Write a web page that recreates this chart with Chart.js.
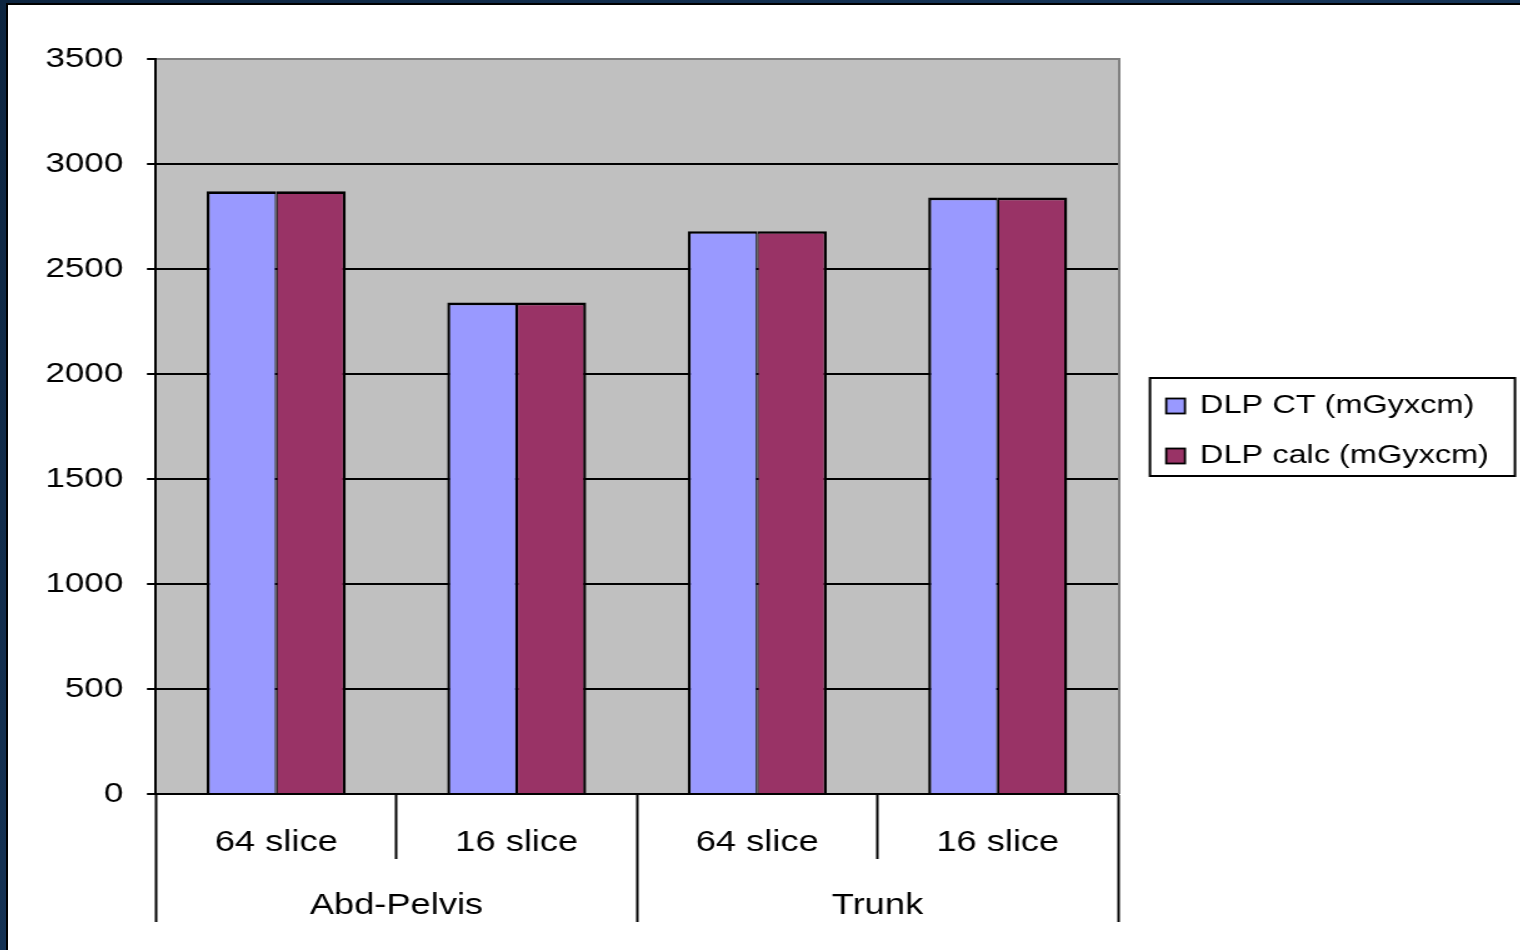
<!DOCTYPE html>
<html>
<head>
<meta charset="utf-8">
<title>DLP CT vs DLP calc</title>
<script src="https://cdn.jsdelivr.net/npm/chart.js@4"></script>
<style>
  html, body { margin: 0; padding: 0; width: 1520px; height: 950px; overflow: hidden; }
  body { background: linear-gradient(135deg, #0d2540 0%, #17365a 50%, #0f2946 100%); position: relative; }
  #panel {
    position: absolute; left: 6px; top: 3px; width: 1514px; height: 947px;
    border-left: 2px solid #000; border-top: 2px solid #000;
    background: #fff; overflow: hidden;
  }
  #chart { display: block; transform: scaleX(1.25); transform-origin: 0 0; background: #fff; }
</style>
</head>
<body>
<div id="panel"><canvas id="chart" width="1210" height="945"></canvas></div>
<script>
// Scan types (inner axis level) and body regions (outer axis level)
const sliceLabels = ['64 slice', '16 slice', '64 slice', '16 slice'];
const regionLabels = ['Abd-Pelvis', 'Trunk'];

// Dose-length product per scan, mGy x cm
const dlpCT = [2870, 2340, 2680, 2840];
const dlpCalc = [2870, 2340, 2680, 2840];

const seriesNames = ['DLP CT (mGyxcm)', 'DLP calc (mGyxcm)'];

// Value axis ticks
const yMin = 0;
const yMax = 3500;
const yStep = 500;

const FONT = '"Liberation Sans", Arial, sans-serif';
Chart.defaults.font.family = FONT;
Chart.defaults.color = '#000';

// Grey plot background and grey right-hand frame of the plot area
const plotFrame = {
  id: 'plotFrame',
  beforeDraw(chart) {
    const a = chart.chartArea, ctx = chart.ctx;
    ctx.save();
    ctx.fillStyle = '#c0c0c0';
    ctx.fillRect(a.left, a.top, a.right - a.left, a.bottom - a.top);
    ctx.restore();
  },
  afterDatasetsDraw(chart) {
    const a = chart.chartArea, ctx = chart.ctx;
    ctx.save();
    ctx.strokeStyle = '#808080';
    ctx.lineWidth = 2;
    ctx.beginPath();
    ctx.moveTo(a.right + 1, a.top - 1);
    ctx.lineTo(a.right + 1, a.bottom);
    ctx.stroke();
    ctx.restore();
  }
};

// Boxed legend to the right of the plot, centred on the plot height
const boxedLegend = {
  id: 'boxedLegend',
  afterDraw(chart) {
    const a = chart.chartArea, ctx = chart.ctx;
    const w = 292, h = 98;
    const x = a.right + 25.6;
    const y = (a.top + a.bottom) / 2 - h / 2 + 0.5;
    ctx.save();
    ctx.fillStyle = '#fff';
    ctx.fillRect(x, y, w, h);
    ctx.strokeStyle = '#000';
    ctx.lineWidth = 2;
    ctx.strokeRect(x, y, w, h);
    ctx.font = '26px ' + FONT;
    ctx.textBaseline = 'middle';
    ctx.textAlign = 'left';
    chart.data.datasets.forEach((ds, i) => {
      const cy = y + 28 + i * 50;
      ctx.fillStyle = ds.backgroundColor;
      ctx.fillRect(x + 13, cy - 7.5, 15, 15);
      ctx.lineWidth = 1.8;
      ctx.strokeStyle = '#000';
      ctx.strokeRect(x + 13, cy - 7.5, 15, 15);
      ctx.fillStyle = '#000';
      ctx.fillText(ds.label, x + 40, cy);
    });
    ctx.restore();
  }
};

new Chart(document.getElementById('chart'), {
  type: 'bar',
  data: {
    labels: sliceLabels,
    datasets: [
      {
        label: seriesNames[0],
        data: dlpCT,
        backgroundColor: '#9999ff',
        borderColor: '#000',
        borderWidth: { top: 2.6, left: 2.4, right: 1.2, bottom: 0 }
      },
      {
        label: seriesNames[1],
        data: dlpCalc,
        backgroundColor: '#993366',
        borderColor: '#000',
        borderWidth: { top: 2.6, left: 1.2, right: 2.4, bottom: 0 }
      }
    ]
  },
  options: {
    responsive: false,
    animation: false,
    devicePixelRatio: 1,
    layout: { padding: { top: 54, right: 322, bottom: 28, left: 0 } },
    datasets: { bar: { categoryPercentage: 0.578, barPercentage: 1 } },
    plugins: {
      legend: { display: false },
      tooltip: { enabled: false }
    },
    scales: {
      y: {
        min: yMin,
        max: yMax,
        ticks: {
          stepSize: yStep,
          padding: 19,
          font: { size: 28 },
          color: '#000',
          callback: (v) => String(v)
        },
        grid: {
          color: (c) => (c.tick && c.tick.value === yMax ? '#808080' : '#000'),
          lineWidth: 2,
          tickLength: 7.2,
          tickColor: '#000',
          tickWidth: 2
        },
        border: { display: true, color: '#000', width: 2 },
        afterFit(scale) { scale.width = 118.4; }
      },
      x: {
        position: 'bottom',
        weight: 0,
        offset: true,
        ticks: { padding: -33, font: { size: 29 }, color: '#000', maxRotation: 0, autoSkip: false },
        grid: {
          offset: true,
          drawOnChartArea: false,
          tickLength: 65,
          tickColor: '#000',
          tickWidth: 2,
          color: '#000'
        },
        border: { display: true, color: '#000', width: 2 },
        afterFit(scale) { scale.height = 65; }
      },
      x2: {
        type: 'category',
        labels: regionLabels,
        position: 'bottom',
        weight: 1,
        offset: true,
        ticks: { padding: -33.7, font: { size: 29 }, color: '#000', maxRotation: 0, autoSkip: false },
        grid: {
          offset: true,
          drawOnChartArea: false,
          tickLength: 63,
          tickColor: '#000',
          tickWidth: 2,
          color: '#000'
        },
        border: { display: false },
        afterFit(scale) { scale.height = 63; }
      }
    }
  },
  plugins: [plotFrame, boxedLegend]
});
</script>
</body>
</html>
